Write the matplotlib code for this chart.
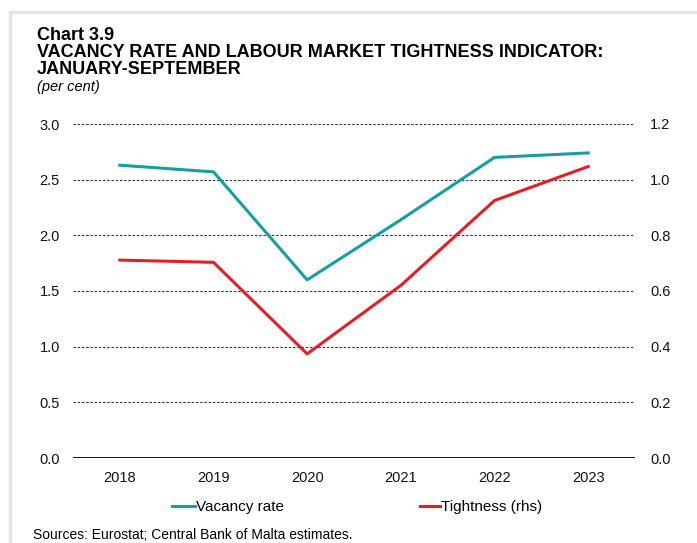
import matplotlib
matplotlib.use("Agg")
import matplotlib.pyplot as plt
from matplotlib.patches import Rectangle
from matplotlib.lines import Line2D

plt.rcParams['font.family'] = ['Liberation Sans', 'DejaVu Sans']

years = ["2018", "2019", "2020", "2021", "2022", "2023"]
vacancy_rate = [2.63, 2.57, 1.60, 2.14, 2.70, 2.74]
tightness = [0.711, 0.703, 0.374, 0.62, 0.925, 1.047]
left_ticks = [0.0, 0.5, 1.0, 1.5, 2.0, 2.5, 3.0]
right_ticks = [0.0, 0.2, 0.4, 0.6, 0.8, 1.0, 1.2]

teal = "#159fa3"
red = "#e31e24"

W, H = 697, 543
fig = plt.figure(figsize=(W / 100, H / 100), dpi=100)

# light frame around the chart panel
fig.patches.append(Rectangle((10 / W, -0.05), 1.2, 1.05 - 12 / H, transform=fig.transFigure,
                             fill=False, edgecolor="#e4e4e4", linewidth=2.5))

ax = fig.add_axes([73 / W, 1 - 458 / H, (635 - 73) / W, (458 - 124) / H])
ax2 = ax.twinx()

x = list(range(len(years)))
ax.set_xlim(-0.5, len(years) - 0.5)
ax.set_ylim(0, 3.0)
ax2.set_ylim(0, 1.2)

for t in left_ticks[1:]:
    ax.axhline(t, color="#333333", linestyle=(0, (2.2, 1.6)), linewidth=0.8, zorder=1)
ax.axhline(0, color="black", linewidth=2.0, zorder=3)

ax.plot(x, vacancy_rate, color=teal, linewidth=2.2, zorder=4)
ax2.plot(x, tightness, color=red, linewidth=2.2, zorder=4)

ax.set_xticks(x)
ax.set_xticklabels(years)
ax.set_yticks(left_ticks)
ax.set_yticklabels([f"{v:.1f}" for v in left_ticks])
ax2.set_yticks(right_ticks)
ax2.set_yticklabels([f"{v:.1f}" for v in right_ticks])

for a in (ax, ax2):
    for s in a.spines.values():
        s.set_visible(False)
    a.tick_params(length=0, labelsize=10.5, colors="#111111")
ax.tick_params(axis="y", pad=9.5)
ax2.tick_params(axis="y", pad=11)
ax.tick_params(axis="x", pad=9)

# titles
title_size = 13
fig.text(37 / W, 1 - 39.5 / H, "Chart 3.9", fontsize=title_size, fontweight="bold",
         ha="left", va="baseline")
fig.text(37 / W, 1 - 57 / H, "VACANCY RATE AND LABOUR MARKET TIGHTNESS INDICATOR:",
         fontsize=title_size, fontweight="bold", ha="left", va="baseline")
fig.text(37 / W, 1 - 74 / H, "JANUARY-SEPTEMBER", fontsize=title_size, fontweight="bold",
         ha="left", va="baseline")
fig.text(37 / W, 1 - 91 / H, "(per cent)", fontsize=10.5, style="italic", ha="left", va="baseline")

# legend
handles = [Line2D([], [], color=teal, linewidth=2.2), Line2D([], [], color=red, linewidth=2.2)]
fig.legend([handles[0]], ["Vacancy rate"], loc="center left",
           bbox_to_anchor=(172 / W, 1 - 507 / H), frameon=False, fontsize=11,
           handlelength=1.5, handletextpad=0.05, borderaxespad=0, borderpad=0)
fig.legend([handles[1]], ["Tightness (rhs)"], loc="center left",
           bbox_to_anchor=(420 / W, 1 - 507 / H), frameon=False, fontsize=11,
           handlelength=1.3, handletextpad=0.05, borderaxespad=0, borderpad=0)

fig.text(33 / W, 1 - 539 / H, "Sources: Eurostat; Central Bank of Malta estimates.",
         fontsize=10, ha="left", va="baseline")

fig.savefig("out.png", dpi=100)
